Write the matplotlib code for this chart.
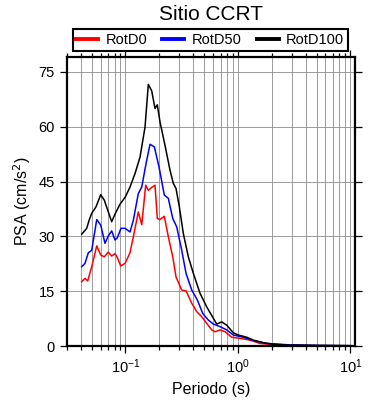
import matplotlib
matplotlib.use("Agg")
import matplotlib.pyplot as plt
from matplotlib.ticker import LogLocator, FixedLocator, NullFormatter

plt.rcParams['font.family'] = ['Liberation Sans', 'DejaVu Sans']

# periods (s) and PSA (cm/s^2)
per_d0 = [0.0408, 0.0436, 0.0461, 0.0501, 0.0555, 0.0602, 0.0648, 0.0703, 0.0754,
          0.0807, 0.0846, 0.0907, 0.0990, 0.1097, 0.1191, 0.1300, 0.1395, 0.1513,
          0.1596, 0.1711, 0.1831, 0.1919, 0.2028, 0.2215, 0.2404, 0.2632, 0.2815,
          0.3163, 0.3455, 0.3884, 0.4302, 0.4767, 0.528, 0.585, 0.6259, 0.6934,
          0.7682, 0.8814, 1.044, 1.282, 1.573, 2.066, 3.0, 5.0, 10.0]
psa_d0 = [17.6, 18.5, 17.8, 21.7, 27.4, 24.9, 24.4, 25.7, 24.6,
          25.3, 24.2, 21.9, 22.6, 25.5, 30.8, 36.7, 33.2, 44.0,
          42.6, 43.4, 44.0, 34.9, 34.6, 35.5, 29.9, 24.4, 18.9,
          15.3, 15.1, 11.7, 9.4, 8.0, 6.2, 4.4, 3.9, 4.4,
          3.9, 2.4, 2.1, 1.6, 0.7, 0.35, 0.15, 0.08, 0.05]

per_d50 = [0.0408, 0.0436, 0.0467, 0.0501, 0.0555, 0.0602, 0.0657, 0.0703, 0.0754,
           0.0807, 0.0846, 0.0912, 0.0990, 0.1097, 0.1174, 0.1300, 0.1395, 0.1523,
           0.1653, 0.1805, 0.1987, 0.2215, 0.2404, 0.2632, 0.2855, 0.3163, 0.3455,
           0.3884, 0.4355, 0.4865, 0.5456, 0.6044, 0.6934, 0.7953, 0.911, 1.117,
           1.371, 1.805, 2.91, 5.0, 10.0]
psa_d50 = [21.7, 22.6, 25.5, 26.2, 34.6, 33.1, 28.1, 30.1, 31.5,
           29.0, 29.6, 32.2, 32.2, 31.2, 34.4, 41.7, 43.5, 49.9,
           55.2, 54.5, 49.0, 41.3, 40.4, 34.9, 32.6, 26.2, 19.9,
           15.3, 12.6, 8.9, 7.1, 6.0, 5.3, 4.4, 3.0, 2.4,
           1.5, 0.7, 0.3, 0.15, 0.08]

per_d100 = [0.0408, 0.0452, 0.0477, 0.0501, 0.0547, 0.0602, 0.0648, 0.0703, 0.0754,
            0.0807, 0.0894, 0.0997, 0.1097, 0.1216, 0.1347, 0.1492, 0.1596, 0.1711,
            0.1831, 0.1919, 0.2028, 0.2247, 0.2489, 0.2664, 0.2815, 0.3012, 0.3269,
            0.3622, 0.4013, 0.4603, 0.528, 0.6044, 0.648, 0.7178, 0.7953, 0.911,
            1.009, 1.198, 1.371, 1.683, 2.066, 2.719, 4.383, 10.0]
psa_d100 = [30.6, 32.2, 34.6, 36.3, 38.1, 41.4, 39.9, 36.7, 34.0,
            36.1, 38.8, 40.8, 43.5, 47.2, 51.7, 59.9, 71.6, 69.8,
            65.0, 66.0, 61.3, 54.9, 48.1, 44.5, 43.1, 38.1, 30.8,
            24.4, 19.9, 14.4, 10.7, 7.6, 6.0, 6.6, 5.7, 3.6,
            3.0, 2.4, 1.6, 0.9, 0.5, 0.27, 0.2, 0.1]

y_ticks = [0, 15, 30, 45, 60, 75]

fig = plt.figure(figsize=(3.9, 4.0), dpi=100)
ax = fig.add_axes([66.7 / 390, 1 - 346 / 400, (355 - 66.7) / 390, (346 - 57.3) / 400])

ax.plot(per_d0, psa_d0, color='red', lw=1.1, label='RotD0')
ax.plot(per_d50, psa_d50, color='blue', lw=1.1, label='RotD50')
ax.plot(per_d100, psa_d100, color='black', lw=1.1, label='RotD100')

ax.set_xscale('log')
ax.set_xlim(0.03, 11)
ax.set_ylim(0, 79)
ax.xaxis.set_major_locator(LogLocator(base=10, numticks=10))
ax.xaxis.set_minor_locator(LogLocator(base=10, subs=range(2, 10), numticks=20))
ax.xaxis.set_minor_formatter(NullFormatter())
ax.yaxis.set_major_locator(FixedLocator(y_ticks))

ax.grid(True, which='both', axis='x', color='#8c8c8c', lw=0.6)
ax.grid(True, which='major', axis='y', color='#8c8c8c', lw=0.6)
ax.set_axisbelow(True)

ax.tick_params(which='both', direction='out', top=True, right=True, labelsize=10.5,
               width=0.9, color='black')
ax.tick_params(which='major', length=5)
ax.tick_params(which='minor', length=3)
for s in ax.spines.values():
    s.set_linewidth(1.6)

ax.set_xlabel('Periodo (s)', fontsize=11.5)
ax.set_ylabel('PSA (cm/s$^2$)', fontsize=11.5)
ax.set_title('Sitio CCRT', fontsize=15, pad=27)

leg = ax.legend(loc='lower left', ncol=3, mode='expand',
                bbox_to_anchor=((72.7 - 66.7) / 288.3, (346 - 50.5) / 288.7,
                                275 / 288.3, 21.5 / 288.7),
                borderaxespad=0, fancybox=False, edgecolor='black', framealpha=1,
                fontsize=10.5, handlelength=1.5, handletextpad=0.5, borderpad=0.25,
                columnspacing=1.0)
leg.get_frame().set_linewidth(1.5)
for h in leg.get_lines():
    h.set_linewidth(2.8)

fig.savefig('out.png', dpi=100)
